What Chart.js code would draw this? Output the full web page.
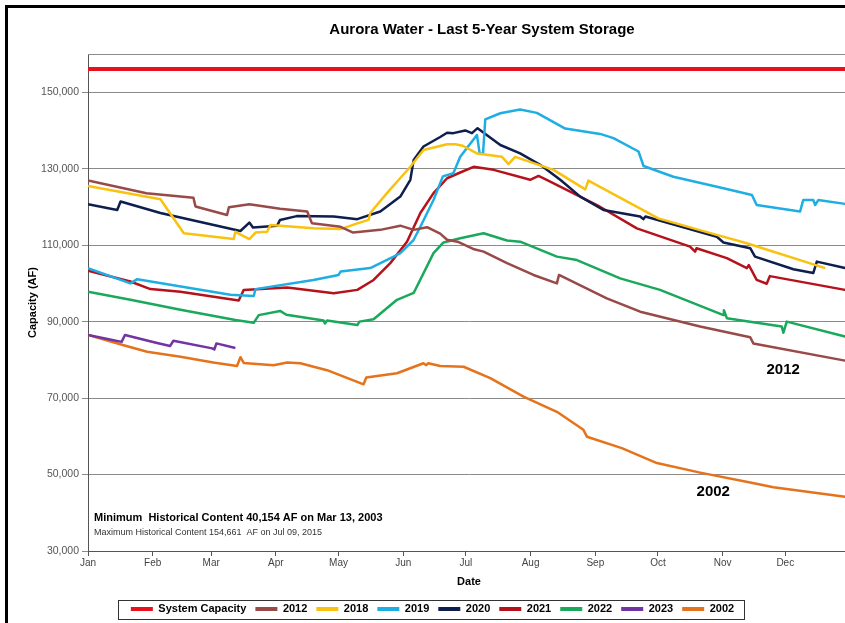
<!DOCTYPE html>
<html>
<head>
<meta charset="utf-8">
<title>Aurora Water - Last 5-Year System Storage</title>
<script src="https://cdn.jsdelivr.net/npm/chart.js@4.4.0/dist/chart.umd.min.js"></script>
<style>
  html, body { margin: 0; padding: 0; background: #fff; overflow: hidden; }
  #frame { position: absolute; left: 5px; top: 5px; width: 900px; height: 700px;
           border-left: 3px solid #000; border-top: 3px solid #000; }
  #wrap { position: absolute; left: 0; top: 0; width: 866px; height: 623px; }
</style>
</head>
<body>
<div id="frame"></div>
<div id="wrap"><canvas id="storageChart" width="866" height="623"></canvas></div>
<script>
// Chart texts
const chartTitle = "Aurora Water - Last 5-Year System Storage";
const minNote = "Minimum  Historical Content 40,154 AF on Mar 13, 2003";
const maxNote = "Maximum Historical Content 154,661  AF on Jul 09, 2015";

// X axis: day of year, ticks at the first of every month
const monthStarts = [0, 31, 59, 90, 120, 151, 181, 212, 243, 273, 304, 334];
const monthLabels = ["Jan", "Feb", "Mar", "Apr", "May", "Jun", "Jul", "Aug", "Sep", "Oct", "Nov", "Dec"];
const yTicks = [30000, 50000, 70000, 90000, 110000, 130000, 150000];

// Series values as [day of year, acre-feet]
const systemCapacity = [[0, 156100], [365, 156100]];

const s2012 = [[0, 126900], [28, 123600], [50.5, 122400], [51.5, 120100], [66.6, 117900], [67.5, 119900],
  [77.3, 120700], [92, 119500], [105, 118800], [107.3, 115700], [121, 114800], [127, 113300], [140, 114000],
  [149.6, 115100], [156, 114000], [162.4, 114700], [168.7, 113000], [172, 111400], [177, 110900],
  [184.5, 109000], [189.5, 108300], [200.7, 105300], [213.4, 102200], [224.6, 100000], [225.6, 102200],
  [248.5, 96100], [264.5, 92600], [293.2, 88700], [317.2, 85900], [318.7, 84300], [362.6, 79800], [365, 79500]];

const s2018 = [[0, 125500], [34.7, 122000], [45.9, 113100], [69.8, 111600], [70.6, 113500], [77.3, 111600],
  [80.2, 113300], [85.8, 113500], [87.4, 115300], [108, 114400], [121, 114200], [129, 115700], [134.4, 116600],
  [135.2, 118400], [143.2, 123600], [154.4, 130500], [160.7, 134900], [172, 136400], [176, 136400],
  [179.5, 136000], [186.3, 134000], [198.3, 133100], [201.4, 131200], [204.6, 133100], [223, 129700],
  [238.2, 124600], [239.7, 126900], [273.2, 117000], [301.2, 112700], [315.6, 110500], [353.1, 104000]];

const s2019 = [[0, 104000], [20.3, 100000], [23.6, 101100], [68.2, 97000], [79.4, 96700], [80.2, 98500],
  [108, 100900], [120, 102200], [121, 103100], [135.2, 104000], [146.4, 107000], [149.6, 107900],
  [156, 111400], [159.2, 114800], [165.5, 121800], [170, 128000], [175, 128800], [178.3, 133100],
  [186.3, 138800], [187.6, 134000], [189.2, 133900], [190.3, 142900], [197.5, 144500], [207, 145500],
  [215, 144600], [228.6, 140500], [245.3, 139100], [251.7, 138000], [263.7, 134500], [266.1, 130700],
  [280.4, 127900], [304.4, 124900], [318, 123100], [320.3, 120500], [341.1, 118800], [342.6, 121800],
  [347.4, 121800], [348.3, 120500], [349.8, 121800], [362.6, 120800], [365, 120600]];

const s2020 = [[0, 120700], [14, 119200], [15.6, 121400], [34.7, 118400], [73, 113700], [77.3, 115900],
  [79, 114600], [90.6, 115100], [92, 116600], [100, 117600], [117.7, 117500], [129, 116800], [140, 118800],
  [149.6, 122700], [154.4, 127100], [156, 132300], [160.7, 135800], [168.7, 138300], [172, 139400],
  [175, 139300], [180.7, 140000], [183.9, 139300], [186.6, 140600], [197.5, 136200], [207, 134000],
  [216.6, 131000], [226.2, 127100], [235.8, 122700], [246.9, 119200], [264.5, 117500], [266, 116800],
  [267, 117500], [301.2, 112200], [304.4, 110700], [317.2, 109200], [319.5, 107000], [337.9, 103700],
  [347.4, 102700], [349.1, 105700], [362.6, 104000], [365, 103900]];

const s2021 = [[0, 103300], [20.3, 100500], [29.9, 98500], [44.3, 97800], [72.2, 95500], [74.6, 98300],
  [95.4, 98900], [117.7, 97400], [129, 98300], [136.8, 100900], [144.8, 105300], [152.8, 110900],
  [159.2, 118400], [165.5, 123600], [172, 127500], [178.3, 129000], [184.7, 130500], [194.3, 129700],
  [211.8, 127100], [215.8, 128100], [221.4, 126600], [243.8, 120500], [262.9, 114400], [288.4, 109600],
  [290.8, 108300], [291.5, 109200], [306, 106600], [315.6, 104000], [316.5, 104800], [320.3, 100900],
  [325.1, 99900], [326.6, 101900], [362.6, 98300], [365, 98000]];

const s2022 = [[0, 97800], [20.3, 95700], [44.3, 93100], [70.6, 90400], [79.4, 89700], [81.8, 91700],
  [92, 92800], [95, 91800], [112.9, 90300], [113.5, 89500], [114.5, 90300], [129, 89100], [130, 90000],
  [136.8, 90600], [148, 95700], [156, 97500], [165.5, 107900], [170.3, 110700], [178.3, 111800],
  [189.5, 113100], [200.7, 111200], [207, 110900], [224.6, 107000], [234.2, 106100], [254.9, 101300],
  [274, 98300], [304.4, 91700], [304.6, 93000], [306, 90900], [332.3, 88700], [333.1, 87100],
  [334.7, 90000], [362.6, 86100], [365, 85800]];

const s2023 = [[0, 86500], [10.5, 85300], [16.1, 84700], [17.7, 86500], [33.1, 84400], [39.3, 83600],
  [40.9, 85000], [59.5, 83000], [60.5, 82700], [61.5, 84300], [70.6, 83100]];

const s2002 = [[0, 86500], [17.1, 83800], [28.3, 82100], [44.3, 80800], [60, 79300], [71.4, 78400],
  [73, 80700], [74.6, 79200], [88.9, 78600], [95.4, 79300], [101.7, 79100], [114.5, 77300], [132, 73600],
  [133.3, 75400], [148, 76500], [160.7, 79100], [162, 78600], [163, 79100], [168.7, 78400], [179.9, 78200],
  [192.7, 75200], [208.6, 70400], [224.6, 66400], [237.3, 61700], [239, 59900], [255.7, 56900],
  [272.5, 53000], [293.2, 50500], [317.2, 47900], [328.3, 46700], [362.6, 44200], [365, 44000]];

// Year tags written next to two of the lines
const seriesTags = [["2012", 333, 77400], ["2002", 299.5, 45400]];

function makeSet(label, points, color, width) {
  return {
    label: label,
    data: points.map(p => ({ x: p[0], y: p[1] })),
    borderColor: color,
    backgroundColor: color,
    borderWidth: width,
    pointRadius: 0,
    tension: 0,
    fill: false,
    borderJoinStyle: "round",
  };
}

const FONT = "Arial, 'Liberation Sans', sans-serif";
Chart.defaults.font.family = FONT;

// Draws title, notes, year tags and the frame round the legend
const chartExtras = {
  id: "chartExtras",
  afterDraw(chart) {
    const { ctx, chartArea, scales } = chart;
    ctx.save();

    ctx.strokeStyle = "#8c8c8c";
    ctx.lineWidth = 1;
    ctx.beginPath();
    ctx.moveTo(chartArea.left, chartArea.top + 0.5);
    ctx.lineTo(chartArea.right, chartArea.top + 0.5);
    ctx.stroke();

    ctx.fillStyle = "#000";
    ctx.textAlign = "center";
    ctx.textBaseline = "middle";
    ctx.font = "bold 15px " + FONT;
    ctx.fillText(chartTitle, 482, 30);

    ctx.font = "bold 15px " + FONT;
    seriesTags.forEach(t => {
      ctx.fillText(t[0], scales.x.getPixelForValue(t[1]), scales.y.getPixelForValue(t[2]));
    });

    ctx.textAlign = "left";
    ctx.font = "bold 11px " + FONT;
    ctx.fillText(minNote, chartArea.left + 6, chartArea.bottom - 33);
    ctx.fillStyle = "#333";
    ctx.font = "9px " + FONT;
    ctx.fillText(maxNote, chartArea.left + 6, chartArea.bottom - 18);

    const boxes = chart.legend.legendHitBoxes;
    if (boxes && boxes.length) {
      const left = Math.min(...boxes.map(b => b.left)) - 13;
      const right = Math.max(...boxes.map(b => b.left + b.width)) + 10;
      const top = boxes[0].top - 4;
      const bottom = boxes[0].top + boxes[0].height + 4;
      ctx.strokeStyle = "#333";
      ctx.lineWidth = 1;
      ctx.strokeRect(Math.round(left) + 0.5, Math.round(top) + 0.5, Math.round(right - left), Math.round(bottom - top));
    }
    ctx.restore();
  },
};

const ctx = document.getElementById("storageChart").getContext("2d");
const storageChart = new Chart(ctx, {
  type: "line",
  data: {
    datasets: [
      makeSet("System Capacity", systemCapacity, "#E8101A", 4),
      makeSet("2012", s2012, "#974A47", 2.5),
      makeSet("2018", s2018, "#F9C20F", 2.5),
      makeSet("2019", s2019, "#1EAEE4", 2.5),
      makeSet("2020", s2020, "#0E1E4E", 2.5),
      makeSet("2021", s2021, "#B5121B", 2.5),
      makeSet("2022", s2022, "#1AA85B", 2.5),
      makeSet("2023", s2023, "#7134A0", 2.5),
      makeSet("2002", s2002, "#E5731B", 2.5),
    ],
  },
  options: {
    responsive: false,
    animation: false,
    events: [],
    layout: { padding: { left: 15, right: 16, top: 54, bottom: 3.5 } },
    scales: {
      x: {
        type: "linear",
        min: 0,
        max: 365,
        afterBuildTicks: (scale) => { scale.ticks = monthStarts.map(v => ({ value: v })); },
        afterFit: (scale) => { scale.height = 43.5; },
        ticks: {
          autoSkip: false,
          maxRotation: 0,
          padding: 1,
          color: "#444",
          font: { size: 10 },
          callback: (value, index) => monthLabels[index],
        },
        grid: { drawOnChartArea: false, tickLength: 5, color: "#555" },
        border: { color: "#555", width: 1 },
        title: { display: true, text: "Date", color: "#000", font: { size: 11, weight: "bold" }, padding: { top: 0, bottom: 6 } },
      },
      y: {
        min: 30000,
        max: 160000,
        afterBuildTicks: (scale) => { scale.ticks = yTicks.map(v => ({ value: v })); },
        afterFit: (scale) => { scale.width = 73; },
        ticks: {
          padding: 3,
          color: "#555",
          font: { size: 10.5 },
          callback: (value) => value.toLocaleString("en-US"),
        },
        grid: { color: "#8a8a8a", tickLength: 6 },
        border: { color: "#555", width: 1 },
        title: { display: true, text: "Capacity (AF)", color: "#000", font: { size: 11, weight: "bold" }, padding: { top: 11, bottom: 0 } },
      },
    },
    plugins: {
      title: { display: false },
      tooltip: { enabled: false },
      legend: {
        position: "bottom",
        maxHeight: 25,
        labels: {
          usePointStyle: true,
          pointStyle: "line",
          pointStyleWidth: 22,
          padding: 9,
          color: "#000",
          font: { size: 11, weight: "bold" },
          generateLabels: (chart) =>
            Chart.defaults.plugins.legend.labels.generateLabels(chart).map(l => ({ ...l, lineWidth: 4 })),
        },
      },
    },
  },
  plugins: [chartExtras],
});
</script>
</body>
</html>
